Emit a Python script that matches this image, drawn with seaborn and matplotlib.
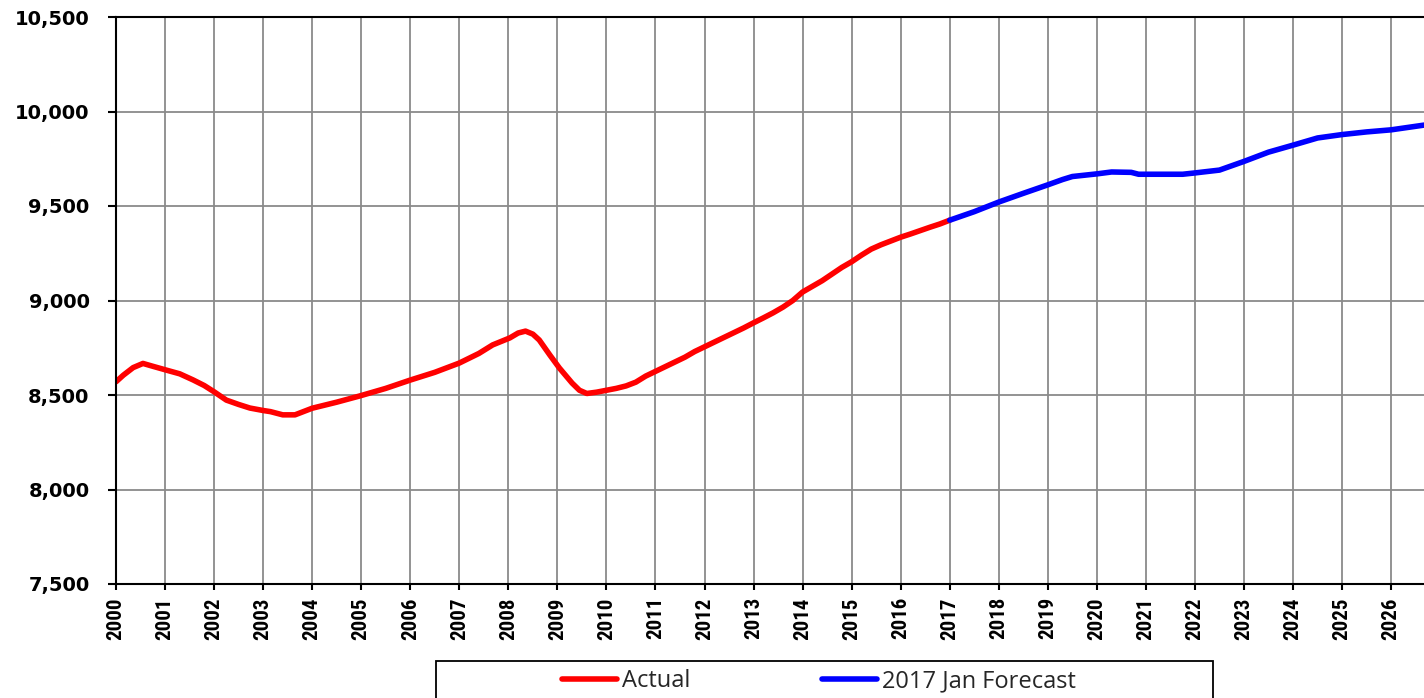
import matplotlib
matplotlib.use("Agg")
import matplotlib.pyplot as plt
from matplotlib import font_manager
from matplotlib.patches import Rectangle
from matplotlib.ticker import FuncFormatter, MultipleLocator
import pandas as pd
import seaborn as sns

# ── values (decimal year, level) ───────────────────────────────────────────────
actual_years = [
    2000.0, 2000.15, 2000.35, 2000.55, 2000.75, 2001.05, 2001.3, 2001.57, 2001.8,
    2002.0, 2002.25, 2002.5, 2002.73, 2003.0, 2003.15, 2003.4, 2003.65, 2003.85,
    2004.0, 2004.5, 2004.97, 2005.5, 2006.0, 2006.5, 2007.0, 2007.4, 2007.68,
    2008.03, 2008.2, 2008.35, 2008.5, 2008.63, 2008.85, 2009.04, 2009.3, 2009.45,
    2009.6, 2009.8, 2010.0, 2010.2, 2010.4, 2010.6, 2010.8, 2011.0, 2011.2, 2011.4,
    2011.6, 2011.8, 2012.0, 2012.2, 2012.4, 2012.6, 2012.8, 2013.0, 2013.2, 2013.4,
    2013.6, 2013.8, 2014.0, 2014.2, 2014.4, 2014.6, 2014.8, 2015.0, 2015.2, 2015.4,
    2015.6, 2015.8, 2016.0, 2016.2, 2016.4, 2016.6, 2016.8, 2017.0,
]
actual_vals = [
    8570, 8605, 8645, 8667, 8652, 8630, 8612, 8580, 8550,
    8517, 8473, 8450, 8431, 8418, 8412, 8395, 8395, 8415,
    8430, 8462, 8495, 8535, 8579, 8620, 8669, 8720, 8765,
    8802, 8828, 8838, 8822, 8791, 8710, 8643, 8563, 8525,
    8508, 8515, 8525, 8535, 8548, 8568, 8600, 8625, 8650, 8675,
    8700, 8730, 8755, 8780, 8805, 8830, 8855, 8882, 8908, 8935,
    8965, 9000, 9045, 9075, 9105, 9140, 9175, 9205, 9240, 9272,
    9295, 9315, 9335, 9352, 9370, 9388, 9405, 9425,
]

forecast_years = [
    2017.0, 2017.5, 2018.0, 2018.5, 2019.0, 2019.3, 2019.5, 2019.75, 2020.0,
    2020.3, 2020.7, 2020.85, 2021.0, 2021.5, 2021.75, 2022.0, 2022.5, 2023.0,
    2023.5, 2024.0, 2024.5, 2025.0, 2025.5, 2026.0, 2026.67,
]
forecast_vals = [
    9425, 9470, 9521, 9567, 9612, 9640, 9656, 9663, 9670,
    9680, 9678, 9668, 9668, 9668, 9668, 9675, 9690, 9736,
    9785, 9822, 9860, 9878, 9892, 9903, 9928,
]

series_names = ["Actual", "2017 Jan Forecast"]
series_colors = ["#ff0000", "#0000ff"]
year_ticks = list(range(2000, 2027))

df = pd.concat([
    pd.DataFrame({"year": actual_years, "value": actual_vals, "series": series_names[0]}),
    pd.DataFrame({"year": forecast_years, "value": forecast_vals, "series": series_names[1]}),
])

sns.set_style("white")

W, H = 1424, 698
fig = plt.figure(figsize=(W / 100, H / 100), dpi=100)
ax = fig.add_axes([116 / W, 1 - 584 / H, 1 - 116 / W, (584 - 17) / H])

sns.lineplot(data=df, x="year", y="value", hue="series",
             palette=dict(zip(series_names, series_colors)),
             linewidth=4, ax=ax, sort=True, estimator=None)
handles, labels = ax.get_legend_handles_labels()
ax.get_legend().remove()

ax.set_xlim(2000, 2026.67)
ax.set_ylim(7500, 10500)
ax.set_xticks(year_ticks)
ax.yaxis.set_major_locator(MultipleLocator(500))
ax.yaxis.set_major_formatter(FuncFormatter(lambda v, _: f"{v:,.0f}"))
ax.set_xlabel("")
ax.set_ylabel("")

ax.grid(True, color="#8a8a8a", linewidth=1.3)
ax.set_axisbelow(True)
for side in ["left", "bottom", "top"]:
    ax.spines[side].set_color("black")
    ax.spines[side].set_linewidth(1.5)
ax.spines["right"].set_visible(False)

ax.tick_params(axis="y", direction="out", length=6, width=1.5, pad=13,
               colors="black", left=True)
ax.tick_params(axis="x", direction="out", length=4.5, width=1.5, pad=5,
               colors="black", bottom=True)
for lab in ax.get_yticklabels():
    lab.set_family(["DejaVu Sans"])
    lab.set_fontweight("bold")
    lab.set_fontsize(14)

# the year labels are a narrow bold face; use one if it exists
installed = {f.name for f in font_manager.fontManager.ttflist}
xfam, xsize = "Liberation Sans", 13.5
for name, size in [("Liberation Sans Narrow", 15), ("Arial Narrow", 15),
                   ("Roboto Condensed", 15), ("Open Sans Condensed", 15)]:
    if name in installed:
        xfam, xsize = name, size
        break
for lab in ax.get_xticklabels():
    lab.set_family([xfam])
    lab.set_fontweight("bold")
    lab.set_fontsize(xsize)
    lab.set_rotation(90)

# legend box (runs off the bottom edge like the original)
fig.patches.append(Rectangle((436 / W, -0.05), (1213 - 436) / W, 0.05 + 37 / H,
                             transform=fig.transFigure, fill=False,
                             edgecolor="black", linewidth=1.3))
leg_font = {"family": "Open Sans", "size": 17}
for h, lab, x0 in zip(handles, labels, [562, 822]):
    leg = fig.legend([h], [lab], loc="center left",
                     bbox_to_anchor=(x0 / W, 1 - 681 / H),
                     frameon=False, borderaxespad=0, borderpad=0,
                     handlelength=2.35, handletextpad=0.2, prop=leg_font)
    for line in leg.get_lines():
        line.set_linewidth(4)
        line.set_solid_capstyle("round")

fig.savefig("out.png", dpi=100)
